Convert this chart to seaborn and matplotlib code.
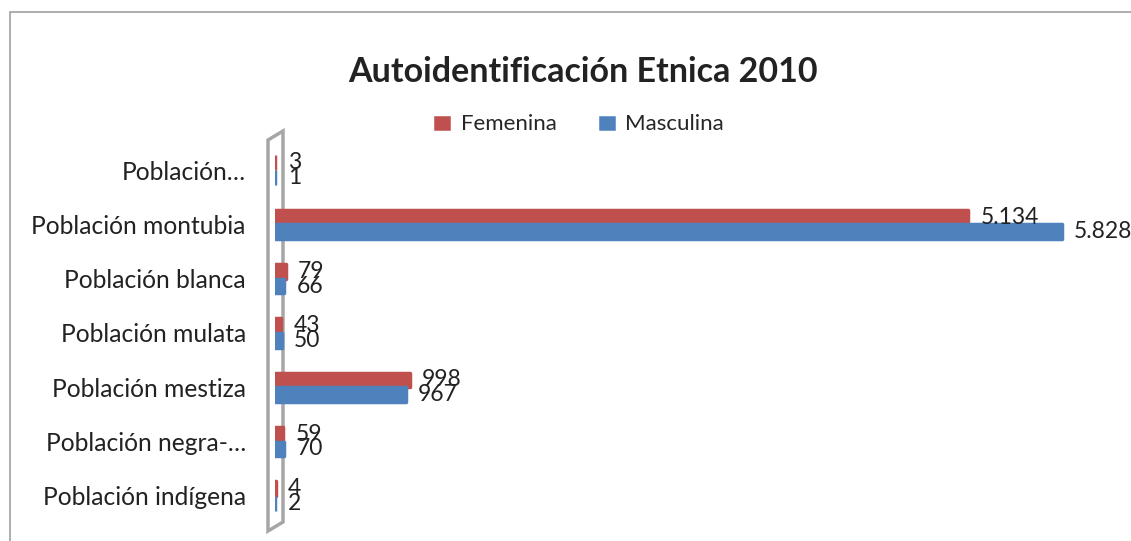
import matplotlib
matplotlib.use("Agg")
import matplotlib.pyplot as plt
import seaborn as sns
import pandas as pd
from matplotlib.patches import Polygon, Rectangle

categories = ["Población…", "Población montubia", "Población blanca", "Población mulata",
              "Población mestiza", "Población negra-…", "Población indígena"]
femenina = [3, 5134, 79, 43, 998, 59, 4]
masculina = [1, 5828, 66, 50, 967, 70, 2]
series = ["Femenina", "Masculina"]
colors = ["#C0504D", "#4F81BD"]
title = "Autoidentificación Etnica 2010"

df = pd.DataFrame({
    "cat": categories * 2,
    "sexo": [series[0]] * len(categories) + [series[1]] * len(categories),
    "val": femenina + masculina,
})

sns.set_theme(style="white")
plt.rcParams["font.family"] = ["Lato", "DejaVu Sans"]

W, H = 1131, 541
fig = plt.figure(figsize=(W / 100, H / 100), dpi=100)
ax = fig.add_axes([275 / W, 1 - 523 / H, 830 / W, 380 / H])
ax.patch.set_alpha(0)

sns.barplot(data=df, y="cat", x="val", hue="sexo", order=categories, hue_order=series,
            palette=colors, orient="h", width=0.54, ax=ax, legend=True,
            saturation=1, linewidth=2.5)
for cont, c in zip(ax.containers, colors):
    for p in cont:
        p.set_edgecolor(c)
        p.set_joinstyle("round")

for cont, vals in zip(ax.containers, [femenina, masculina]):
    ax.bar_label(cont, labels=[f"{v:,}".replace(",", ".") for v in vals], padding=9,
                 fontsize=16.5, color="#222222")

ax.set_xlim(0, 6150)
ax.set_xlabel("")
ax.set_ylabel("")
ax.set_xticks([])
ax.tick_params(axis="y", labelsize=17.7, colors="#222222", pad=21, length=0)
for s in ax.spines.values():
    s.set_visible(False)

# 3D-like wall at the category axis (pixel coordinates, y measured from the top)
pts = [(268, 140), (283, 131), (283, 522), (268, 531)]
wall = Polygon([(x, H - y) for x, y in pts], closed=True, transform=None,
               facecolor="none", edgecolor="#A6A6A6", lw=2.5, zorder=-1)
fig.patches.append(wall)

# chart frame
fig.patches.append(Rectangle((10 / W, -0.1), 1.2, 1 - 12 / H + 0.1, transform=fig.transFigure,
                             fill=False, edgecolor="#A0A0A0", lw=1.2, zorder=-1))

fig.text(0.5 * (347 + 818) / W, 1 - 72 / H, title, ha="center", va="center",
         fontsize=24.5, fontweight="bold", color="#222222")

handles, labels = ax.get_legend_handles_labels()
ax.legend_.remove()
fig.legend(handles, labels, loc="center", bbox_to_anchor=(578 / W, 1 - 124 / H), ncol=2,
           frameon=False, fontsize=16, handlelength=0.9, handleheight=0.9,
           handletextpad=0.4, columnspacing=1.8)

fig.savefig("out.png", dpi=100)
